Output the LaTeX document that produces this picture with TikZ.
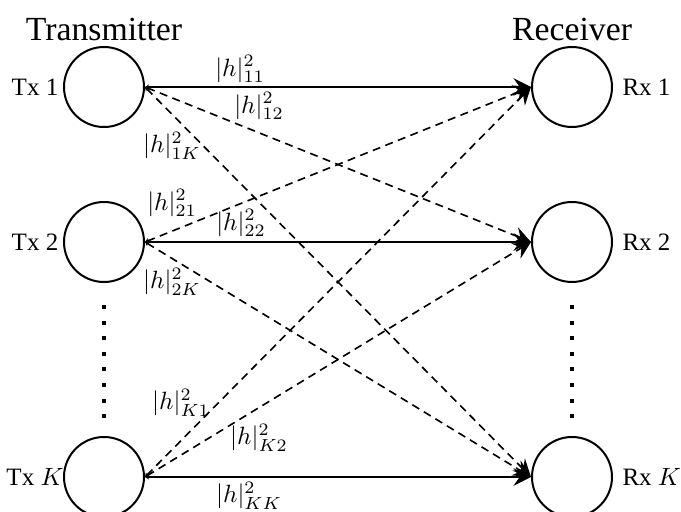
\documentclass[tikz,border=0pt]{standalone}
\usepackage{fontspec}
\setmainfont{Liberation Serif}
\usepackage{amsmath}
\usetikzlibrary{arrows.meta}

\begin{document}
\begin{tikzpicture}[x=0.4pt, y=-0.4pt,
	user/.style={draw, circle, line width=0.8pt, minimum size=32pt, inner sep=0pt},
	link/.style={line width=0.8pt, {Stealth[length=1.6pt,width=2pt]}-{Stealth[length=7pt,width=7pt,inset=2.5pt]}},
	cross/.style={link, line width=0.65pt, dash pattern=on 3.2pt off 2.2pt},
	gain/.style={inner sep=0pt},
	side/.style={font=\fontsize{13.5}{16}\selectfont}]
	\useasboundingbox (0,0) rectangle (681,512);

	\node[side] (txs) at (104,29) {Transmitter};
	\node[side] (rxs) at (572,29) {Receiver};

	% users on both sides
	\node[user] (tx1) at (104,87) {};
	\node[user] (tx2) at (104,242) {};
	\node[user] (txK) at (104,477) {};
	\node[user] (rx1) at (572,87) {};
	\node[user] (rx2) at (572,242) {};
	\node[user] (rxK) at (572,477) {};

	\node (t1) at (35,87) {Tx 1};
	\node (t2) at (35,242) {Tx 2};
	\node (tK) at (35,477) {Tx $K$};
	\node[anchor=west, inner sep=0pt] (r1) at (622,87) {Rx 1};
	\node[anchor=west, inner sep=0pt] (r2) at (622,242) {Rx 2};
	\node[anchor=west, inner sep=0pt] (rK) at (622,477) {Rx $K$};

	\draw[line width=1.6pt, dash pattern=on 1.6pt off 4.64pt] (104,305) -- (104,420);
	\draw[line width=1.6pt, dash pattern=on 1.6pt off 4.64pt] (572,305) -- (572,420);

	% direct links
	\draw[link] (tx1.east) -- (rx1.west);
	\draw[link] (tx2.east) -- (rx2.west);
	\draw[link] (txK.east) -- (rxK.west);

	% interference links
	\draw[cross] (tx1.east) -- (rx2.west);
	\draw[cross] (tx1.east) -- (rxK.west);
	\draw[cross] (tx2.east) -- (rx1.west);
	\draw[cross] (tx2.east) -- (rxK.west);
	\draw[cross] (txK.east) -- (rx1.west);
	\draw[cross] (txK.east) -- (rx2.west);

	\node[gain] (g11) at (240,69) {$|h|^2_{11}$};
	\node[gain] (g12) at (259,106) {$|h|^2_{12}$};
	\node[gain] (g1K) at (172,146) {$|h|^2_{1K}$};
	\node[gain] (g21) at (172,203) {$|h|^2_{21}$};
	\node[gain] (g22) at (241,223) {$|h|^2_{22}$};
	\node[gain] (g2K) at (172,282) {$|h|^2_{2K}$};
	\node[gain] (gK1) at (181,403) {$|h|^2_{K1}$};
	\node[gain] (gK2) at (259,438) {$|h|^2_{K2}$};
	\node[gain] (gKK) at (249,496) {$|h|^2_{KK}$};
\end{tikzpicture}
\end{document}
